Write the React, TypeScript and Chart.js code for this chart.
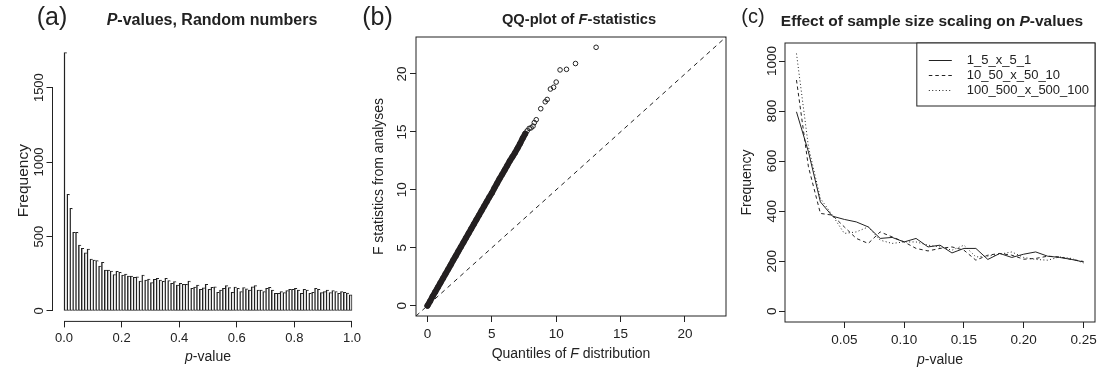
import React, { useEffect, useRef } from 'react';
import { Chart, registerables } from 'chart.js';

Chart.register(...registerables);

const W = 1108;
const H = 371;
const FONT = "'Liberation Sans', Arial, Helvetica, sans-serif";
const INK = '#222222';

Chart.defaults.font.family = FONT;
Chart.defaults.color = INK;

// ---------- (a) histogram of P-values ----------
const histBinWidth = 0.01;
const histCounts = [
  1735, 783, 689, 528, 528, 443, 421, 391, 416, 349,
  342, 338, 302, 327, 275, 275, 268, 245, 266, 259,
  241, 248, 235, 235, 226, 230, 201, 241, 208, 215,
  190, 212, 219, 208, 199, 219, 204, 186, 197, 174,
  186, 179, 179, 201, 152, 161, 174, 146, 155, 179,
  145, 159, 163, 125, 141, 152, 170, 157, 125, 161,
  152, 130, 157, 148, 141, 163, 170, 141, 141, 130,
  152, 159, 141, 119, 119, 130, 123, 137, 145, 145,
  152, 141, 119, 145, 141, 119, 125, 152, 145, 123,
  130, 141, 123, 137, 130, 119, 130, 126, 121, 108,
];
const histXTicks = [0, 0.2, 0.4, 0.6, 0.8, 1.0];
const histYTicks = [0, 500, 1000, 1500];

// ---------- (b) QQ-plot ----------
const qqDenseTheoretical = [
  0.0, 0.2, 0.4, 0.6, 0.8, 1.0, 1.2, 1.4, 1.6, 1.8,
  2.0, 2.2, 2.4, 2.6, 2.8, 3.0, 3.2, 3.4, 3.6, 3.8,
  4.0, 4.2, 4.4, 4.6, 4.8, 5.0, 5.2, 5.4, 5.6, 5.8,
  6.0, 6.2, 6.4, 6.6, 6.8, 7.0, 7.2, 7.4, 7.6,
];
const qqDenseObserved = [
  0.0, 0.38, 0.8, 1.18, 1.57, 1.96, 2.35, 2.74, 3.13, 3.52,
  3.92, 4.3, 4.7, 5.08, 5.47, 5.86, 6.25, 6.64, 7.03, 7.42,
  7.8, 8.19, 8.58, 8.97, 9.36, 9.72, 10.15, 10.55, 10.95, 11.33,
  11.72, 12.1, 12.5, 12.85, 13.2, 13.6, 14.0, 14.45, 14.85,
];
const qqTailTheoretical = [7.75, 7.9, 8.05, 8.2, 8.3, 8.45, 8.8, 9.15, 9.3, 9.55, 9.8, 10.0, 10.3, 10.8, 11.5, 13.1];
const qqTailObserved = [15.1, 15.3, 15.35, 15.5, 15.8, 16.05, 17.0, 17.6, 17.8, 18.7, 18.85, 19.3, 20.35, 20.4, 20.9, 22.3];
const qqTicks = [0, 5, 10, 15, 20];
const qqAxisRange = [-0.89, 23.19];

// ---------- (c) sample size scaling ----------
const pValues = [
  0.01, 0.02, 0.03, 0.04, 0.05, 0.06, 0.07, 0.08, 0.09, 0.10,
  0.11, 0.12, 0.13, 0.14, 0.15, 0.16, 0.17, 0.18, 0.19, 0.20,
  0.21, 0.22, 0.23, 0.24, 0.25,
];
const freqSmall = [797, 637, 437, 380, 367, 357, 337, 291, 295, 277, 291, 257, 264, 233, 251, 251, 207, 231, 215, 228, 237, 220, 215, 207, 197];
const freqMedium = [924, 577, 391, 384, 337, 291, 271, 317, 297, 277, 251, 241, 251, 257, 244, 204, 224, 231, 224, 208, 211, 220, 217, 207, 199];
const freqLarge = [1030, 657, 451, 384, 311, 317, 337, 284, 271, 277, 277, 264, 257, 244, 264, 217, 220, 228, 237, 215, 207, 204, 217, 211, 193];
const seriesNames = ['1_5_x_5_1', '10_50_x_50_10', '100_500_x_500_100'];
const seriesDashes = [[], [3.5, 3], [1, 2.4]];
const pXTicks = [0.05, 0.1, 0.15, 0.2, 0.25];
const pYTicks = [0, 200, 400, 600, 800, 1000];

// ---------- plugins ----------
type Seg = { text: string; font: string };
type RichItem = { x: number; y: number; rotation?: number; segments: Seg[] };

const richTextPlugin = {
  id: 'richText',
  afterDraw(chart: any, _args: any, opts: any) {
    const items: RichItem[] = (opts && opts.items) || [];
    const ctx = chart.ctx as CanvasRenderingContext2D;
    for (const it of items) {
      ctx.save();
      ctx.fillStyle = INK;
      ctx.textBaseline = 'middle';
      ctx.textAlign = 'left';
      let total = 0;
      const widths = it.segments.map((s) => {
        ctx.font = s.font;
        const w = ctx.measureText(s.text).width;
        total += w;
        return w;
      });
      ctx.translate(it.x, it.y);
      if (it.rotation) ctx.rotate(it.rotation);
      let cx = -total / 2;
      it.segments.forEach((s, i) => {
        ctx.font = s.font;
        ctx.fillText(s.text, cx, 0);
        cx += widths[i];
      });
      ctx.restore();
    }
  },
};

const boxPlugin = {
  id: 'rBox',
  afterDraw(chart: any, _args: any, opts: any) {
    if (!opts || !opts.enabled) return;
    const { left, top, right, bottom } = chart.chartArea;
    const ctx = chart.ctx as CanvasRenderingContext2D;
    ctx.save();
    ctx.strokeStyle = INK;
    ctx.lineWidth = 1;
    ctx.strokeRect(left, top, right - left, bottom - top);
    ctx.restore();
  },
};

const rAxisPlugin = {
  id: 'rAxis',
  afterDraw(chart: any, _args: any, opts: any) {
    if (!opts || !opts.enabled) return;
    const ctx = chart.ctx as CanvasRenderingContext2D;
    const ca = chart.chartArea;
    const xs = chart.scales.x;
    const ys = chart.scales.y;
    const xt = xs.ticks;
    const yt = ys.ticks;
    ctx.save();
    ctx.strokeStyle = INK;
    ctx.lineWidth = 1;
    ctx.beginPath();
    ctx.moveTo(xs.getPixelForValue(xt[0].value), ca.bottom);
    ctx.lineTo(xs.getPixelForValue(xt[xt.length - 1].value), ca.bottom);
    ctx.moveTo(ca.left, ys.getPixelForValue(yt[0].value));
    ctx.lineTo(ca.left, ys.getPixelForValue(yt[yt.length - 1].value));
    ctx.stroke();
    ctx.restore();
  },
};

const rLegendPlugin = {
  id: 'rLegend',
  afterDraw(chart: any, _args: any, opts: any) {
    if (!opts || !opts.enabled) return;
    const ctx = chart.ctx as CanvasRenderingContext2D;
    const ca = chart.chartArea;
    const ds = chart.data.datasets;
    ctx.save();
    ctx.font = `13px ${FONT}`;
    let maxW = 0;
    ds.forEach((d: any) => {
      maxW = Math.max(maxW, ctx.measureText(d.label).width);
    });
    const textOff = 50;
    const boxW = textOff + maxW + 6;
    const boxH = 63;
    const left = ca.right - boxW;
    const top = ca.top;
    ctx.fillStyle = '#ffffff';
    ctx.fillRect(left, top, boxW, boxH);
    ctx.strokeStyle = INK;
    ctx.lineWidth = 1;
    ctx.strokeRect(left, top, boxW, boxH);
    ds.forEach((d: any, i: number) => {
      const y = top + 17.5 + i * 15;
      ctx.beginPath();
      ctx.setLineDash(d.borderDash || []);
      ctx.moveTo(left + 12, y);
      ctx.lineTo(left + 35, y);
      ctx.stroke();
      ctx.setLineDash([]);
      ctx.fillStyle = INK;
      ctx.textBaseline = 'middle';
      ctx.textAlign = 'left';
      ctx.fillText(d.label, left + textOff, y);
    });
    ctx.restore();
  },
};

const tickGrid = {
  display: true,
  drawOnChartArea: false,
  drawTicks: true,
  tickLength: 6,
  color: INK,
  lineWidth: 1,
  offset: false,
};

const setTicks = (vals: number[]) => (scale: any) => {
  scale.ticks = vals.map((v) => ({ value: v }));
};

const plainNumber = (v: any) => String(v);

// ---------- configs ----------
function configA(): any {
  return {
    type: 'bar',
    data: {
      datasets: [
        {
          data: histCounts.map((c, i) => ({ x: (i + 0.5) * histBinWidth, y: c })),
          backgroundColor: '#ffffff',
          borderColor: INK,
          borderWidth: (ctx: any) => ({
            left: 1.5,
            top: 1,
            bottom: 1,
            right: ctx.dataIndex === histCounts.length - 1 ? 1 : 0,
          }),
          borderSkipped: false,
          barPercentage: 1,
          categoryPercentage: 1,
          grouped: false,
        },
      ],
    },
    options: {
      animation: false,
      responsive: false,
      events: [],
      layout: { padding: { left: 0, right: W - 363.5, top: 40, bottom: 0 } },
      plugins: {
        legend: { display: false },
        tooltip: { enabled: false },
        rAxis: { enabled: true },
        richText: {
          items: [
            { x: 52, y: 17.8, segments: [{ text: '(a)', font: `25px ${FONT}` }] },
            {
              x: 212,
              y: 21,
              segments: [
                { text: 'P', font: `italic bold 16px ${FONT}` },
                { text: '-values, Random numbers', font: `bold 16px ${FONT}` },
              ],
            },
            {
              x: 208,
              y: 357.5,
              segments: [
                { text: 'p', font: `italic 14px ${FONT}` },
                { text: '-value', font: `14px ${FONT}` },
              ],
            },
          ],
        },
      },
      scales: {
        x: {
          type: 'linear',
          offset: false,
          min: -0.04,
          max: 1.04,
          afterBuildTicks: setTicks(histXTicks),
          afterFit: (s: any) => {
            s.height = H - 321.4;
          },
          grid: tickGrid,
          border: { display: false },
          ticks: {
            autoSkip: false,
            maxRotation: 0,
            padding: 3,
            font: { size: 13 },
            color: INK,
            callback: (v: any) => Number(v).toFixed(1),
          },
        },
        y: {
          type: 'linear',
          min: -70,
          max: 1820,
          afterBuildTicks: setTicks(histYTicks),
          afterFit: (s: any) => {
            s.width = 52.5;
          },
          grid: tickGrid,
          border: { display: false },
          ticks: {
            autoSkip: false,
            minRotation: 90,
            maxRotation: 90,
            crossAlign: 'center',
            padding: -7,
            font: { size: 13 },
            color: INK,
            callback: plainNumber,
          },
          title: {
            display: true,
            text: 'Frequency',
            font: { size: 15.5 },
            color: INK,
            padding: { top: 14, bottom: 0 },
          },
        },
      },
    },
    plugins: [richTextPlugin, rAxisPlugin],
  };
}

function configB(): any {
  return {
    type: 'scatter',
    data: {
      datasets: [
        {
          label: 'y = x',
          data: qqAxisRange.map((v) => ({ x: v, y: v })),
          showLine: true,
          borderColor: INK,
          borderWidth: 1,
          borderDash: [4.5, 4],
          pointRadius: 0,
        },
        {
          label: 'dense',
          data: qqDenseTheoretical.map((x, i) => ({ x, y: qqDenseObserved[i] })),
          showLine: true,
          borderColor: '#231f20',
          borderWidth: 6,
          borderCapStyle: 'round',
          pointRadius: 2.6,
          pointBorderWidth: 1,
          pointBackgroundColor: 'rgba(0,0,0,0)',
          pointBorderColor: '#231f20',
        },
        {
          label: 'tail',
          data: qqTailTheoretical.map((x, i) => ({ x, y: qqTailObserved[i] })),
          showLine: false,
          pointRadius: 2.3,
          pointBorderWidth: 1,
          pointBackgroundColor: 'rgba(0,0,0,0)',
          pointBorderColor: INK,
        },
      ],
    },
    options: {
      animation: false,
      responsive: false,
      events: [],
      layout: { padding: { left: 370, right: W - 726, top: 37, bottom: 0 } },
      plugins: {
        legend: { display: false },
        tooltip: { enabled: false },
        rBox: { enabled: true },
        richText: {
          items: [
            { x: 377.5, y: 17.8, segments: [{ text: '(b)', font: `25px ${FONT}` }] },
            {
              x: 579,
              y: 19.5,
              segments: [
                { text: 'QQ-plot of ', font: `bold 14.7px ${FONT}` },
                { text: 'F', font: `italic bold 14.7px ${FONT}` },
                { text: '-statistics', font: `bold 14.7px ${FONT}` },
              ],
            },
            {
              x: 571,
              y: 354,
              segments: [
                { text: 'Quantiles of ', font: `14px ${FONT}` },
                { text: 'F', font: `italic 14px ${FONT}` },
                { text: ' distribution', font: `14px ${FONT}` },
              ],
            },
          ],
        },
      },
      scales: {
        x: {
          type: 'linear',
          min: qqAxisRange[0],
          max: qqAxisRange[1],
          afterBuildTicks: setTicks(qqTicks),
          afterFit: (s: any) => {
            s.height = H - 316;
          },
          grid: tickGrid,
          border: { display: false },
          ticks: { autoSkip: false, maxRotation: 0, padding: 4, font: { size: 13.5 }, color: INK, callback: plainNumber },
        },
        y: {
          type: 'linear',
          min: qqAxisRange[0],
          max: qqAxisRange[1],
          afterBuildTicks: setTicks(qqTicks),
          afterFit: (s: any) => {
            s.width = 46;
          },
          grid: tickGrid,
          border: { display: false },
          ticks: {
            autoSkip: false,
            minRotation: 90,
            maxRotation: 90,
            crossAlign: 'center',
            padding: 0.5,
            font: { size: 13.5 },
            color: INK,
            callback: plainNumber,
          },
          title: {
            display: true,
            text: 'F statistics from analyses',
            font: { size: 14 },
            color: INK,
            padding: { top: 0.7, bottom: 0 },
          },
        },
      },
    },
    plugins: [richTextPlugin, boxPlugin],
  };
}

function configC(): any {
  const series = [freqSmall, freqMedium, freqLarge];
  return {
    type: 'line',
    data: {
      datasets: series.map((vals, k) => ({
        label: seriesNames[k],
        data: pValues.map((p, i) => ({ x: p, y: vals[i] })),
        borderColor: INK,
        borderWidth: 1,
        borderDash: seriesDashes[k],
        pointRadius: 0,
        tension: 0,
        fill: false,
      })),
    },
    options: {
      animation: false,
      responsive: false,
      events: [],
      layout: { padding: { left: 735, right: W - 1095, top: 43, bottom: 0 } },
      plugins: {
        legend: { display: false },
        tooltip: { enabled: false },
        rBox: { enabled: true },
        rLegend: { enabled: true },
        richText: {
          items: [
            { x: 753, y: 17.4, segments: [{ text: '(c)', font: `20px ${FONT}` }] },
            {
              x: 932,
              y: 21.5,
              segments: [
                { text: 'Effect of sample size scaling on ', font: `bold 15.5px ${FONT}` },
                { text: 'P', font: `italic bold 15.5px ${FONT}` },
                { text: '-values', font: `bold 15.5px ${FONT}` },
              ],
            },
            {
              x: 940,
              y: 360,
              segments: [
                { text: 'p', font: `italic 14px ${FONT}` },
                { text: '-value', font: `14px ${FONT}` },
              ],
            },
          ],
        },
      },
      scales: {
        x: {
          type: 'linear',
          min: 0.0004,
          max: 0.2596,
          afterBuildTicks: setTicks(pXTicks),
          afterFit: (s: any) => {
            s.height = H - 322;
          },
          grid: tickGrid,
          border: { display: false },
          ticks: {
            autoSkip: false,
            maxRotation: 0,
            padding: 3.7,
            font: { size: 13.5 },
            color: INK,
            callback: (v: any) => Number(v).toFixed(2),
          },
        },
        y: {
          type: 'linear',
          min: -43,
          max: 1072,
          afterBuildTicks: setTicks(pYTicks),
          afterFit: (s: any) => {
            s.width = 50;
          },
          grid: tickGrid,
          border: { display: false },
          ticks: {
            autoSkip: false,
            minRotation: 90,
            maxRotation: 90,
            crossAlign: 'center',
            padding: -8,
            font: { size: 13.5 },
            color: INK,
            callback: plainNumber,
          },
          title: {
            display: true,
            text: 'Frequency',
            font: { size: 14 },
            color: INK,
            padding: { top: 3.7, bottom: 0 },
          },
        },
      },
    },
    plugins: [richTextPlugin, boxPlugin, rLegendPlugin],
  };
}

export default function App() {
  const aRef = useRef<HTMLCanvasElement>(null);
  const bRef = useRef<HTMLCanvasElement>(null);
  const cRef = useRef<HTMLCanvasElement>(null);

  useEffect(() => {
    const charts: Chart[] = [];
    if (aRef.current) charts.push(new Chart(aRef.current, configA()));
    if (bRef.current) charts.push(new Chart(bRef.current, configB()));
    if (cRef.current) charts.push(new Chart(cRef.current, configC()));
    return () => {
      charts.forEach((c) => c.destroy());
    };
  }, []);

  const cs: React.CSSProperties = { position: 'absolute', left: 0, top: 0, width: W, height: H };
  return (
    <div style={{ position: 'fixed', left: 0, top: 0, width: W, height: H, background: '#ffffff' }}>
      <canvas ref={aRef} width={W} height={H} style={cs} />
      <canvas ref={bRef} width={W} height={H} style={cs} />
      <canvas ref={cRef} width={W} height={H} style={cs} />
    </div>
  );
}
